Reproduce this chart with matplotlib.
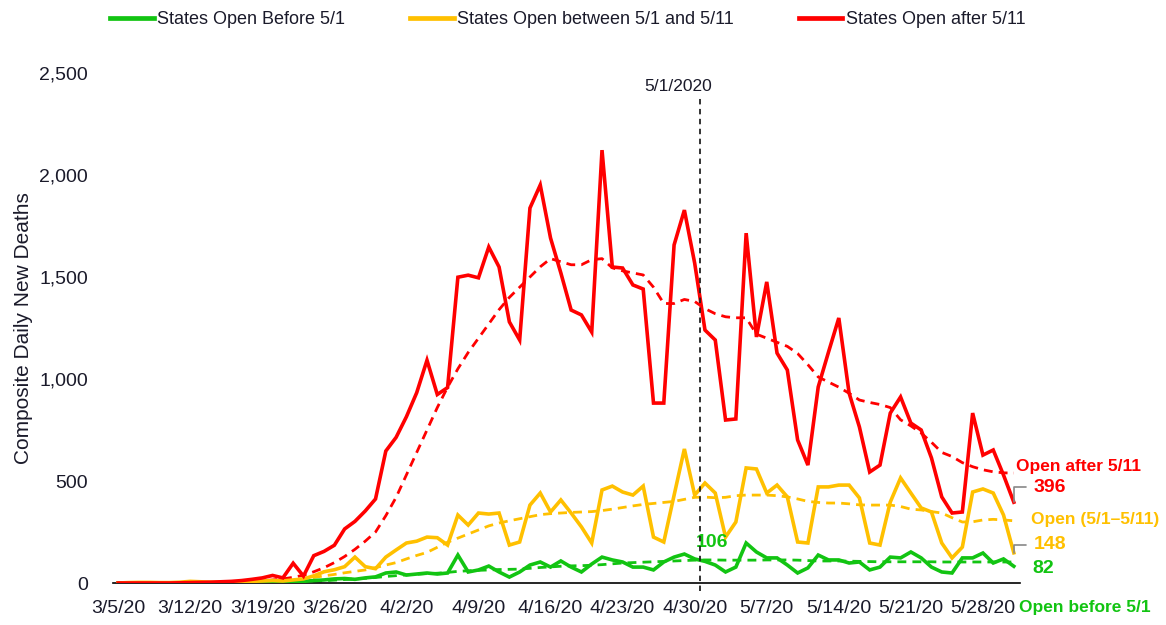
import matplotlib
matplotlib.use("Agg")
import matplotlib.pyplot as plt
import matplotlib.dates as mdates
from matplotlib.lines import Line2D
import pandas as pd
import numpy as np

# ---------------- data ----------------
start_date = "2020-03-05"
n_days = 88
dates = pd.date_range(start_date, periods=n_days, freq="D")

open_after_511 = [
    0, 0, 0, 0, 0, 0, 1, 2, 3, 4,
    6, 8, 12, 18, 25, 37, 25, 97, 34, 134,
    155, 185, 265, 302, 353, 412, 647, 714, 815, 933,
    1092, 924, 958, 1499, 1509, 1496, 1647, 1549, 1280, 1191,
    1838, 1951, 1691, 1520, 1338, 1314, 1230, 2122, 1549, 1544,
    1461, 1441, 882, 882, 1657, 1828, 1568, 1240, 1191, 799,
    804, 1715, 1206, 1476, 1127, 1044, 701, 578, 961, 1132,
    1299, 931, 765, 544, 578, 833, 912, 784, 750, 613,
    422, 343, 348, 833, 627, 652, 529, 396]
open_after_511_avg = [
    0, 0, 0, 0, 0, 0, 0, 1, 1, 2,
    3, 4, 6, 8, 11, 15, 20, 28, 38, 55,
    75, 100, 130, 165, 205, 250, 330, 420, 530, 640,
    750, 860, 960, 1050, 1130, 1200, 1270, 1340, 1400, 1450,
    1500, 1550, 1590, 1575, 1560, 1560, 1585, 1590, 1545, 1530,
    1520, 1510, 1450, 1370, 1370, 1390, 1380, 1345, 1320, 1305,
    1300, 1300, 1220, 1200, 1180, 1160, 1125, 1070, 1010, 985,
    960, 930, 897, 885, 875, 860, 800, 770, 735, 690,
    640, 620, 590, 570, 555, 545, 540, 539]

open_between = [
    0, 2, 3, 3, 2, 2, 4, 8, 6, 4,
    3, 4, 5, 8, 10, 12, 10, 15, 20, 35,
    55, 65, 80, 127, 80, 70, 127, 162, 196, 205,
    225, 222, 186, 333, 284, 343, 338, 343, 186, 201,
    382, 441, 348, 407, 343, 275, 196, 456, 475, 446,
    431, 475, 225, 201, 430, 657, 431, 490, 441, 225,
    299, 564, 559, 441, 480, 422, 201, 196, 471, 471,
    480, 480, 417, 196, 186, 397, 515, 441, 368, 348,
    196, 123, 176, 446, 461, 441, 333, 148]
open_between_avg = [
    0, 0, 1, 1, 1, 2, 2, 3, 3, 3,
    4, 4, 5, 6, 8, 10, 12, 15, 20, 27,
    35, 42, 50, 57, 64, 75, 88, 100, 118, 135,
    150, 175, 200, 220, 240, 260, 280, 294, 305, 315,
    325, 335, 340, 343, 346, 348, 350, 355, 362, 370,
    378, 385, 390, 395, 400, 410, 420, 421, 418, 420,
    428, 431, 431, 431, 428, 422, 412, 400, 395, 392,
    392, 388, 383, 382, 382, 382, 375, 362, 358, 350,
    343, 320, 299, 300, 309, 312, 309, 305]

open_before = [
    0, 0, 0, 0, 0, 0, 0, 1, 1, 1,
    1, 1, 2, 2, 2, 3, 4, 6, 8, 12,
    15, 20, 22, 18, 25, 30, 49, 54, 39, 44,
    49, 44, 49, 137, 54, 64, 83, 54, 29, 54,
    88, 103, 78, 108, 78, 54, 93, 127, 113, 103,
    78, 78, 64, 103, 127, 142, 118, 106, 88, 54,
    78, 196, 152, 123, 123, 88, 49, 74, 137, 113,
    113, 98, 103, 64, 78, 127, 123, 152, 123, 78,
    54, 49, 123, 123, 147, 98, 118, 82]
open_before_avg = [
    0, 0, 0, 0, 0, 0, 0, 0, 0, 1,
    1, 1, 1, 2, 2, 3, 4, 5, 7, 9,
    11, 14, 17, 20, 23, 27, 32, 36, 40, 43,
    46, 48, 52, 57, 60, 62, 64, 66, 67, 68,
    72, 76, 79, 82, 84, 85, 87, 90, 94, 98,
    100, 102, 104, 106, 108, 110, 112, 113, 113, 112,
    112, 112, 112, 113, 113, 113, 112, 110, 108, 108,
    108, 107, 106, 105, 104, 104, 104, 104, 104, 104,
    103, 103, 103, 103, 103, 103, 103, 103]

legend_labels = ["States Open Before 5/1",
                 "States Open between 5/1 and 5/11",
                 "States Open after 5/11"]
end_names = ["Open before 5/1", "Open (5/1\u20135/11)", "Open after 5/11"]
reopen_date = "2020-05-01"
reopen_label = "5/1/2020"
y_ticks = [0, 500, 1000, 1500, 2000, 2500]
y_label = "Composite Daily New Deaths"
tick_step_days = 7

GREEN = "#12C412"
ORANGE = "#FFC000"
RED = "#FF0000"
TXT = "#1a1a2a"

# ---------------- figure ----------------
plt.rcParams["font.family"] = ["Liberation Sans", "DejaVu Sans"]
fig = plt.figure(figsize=(11.66, 6.25), dpi=100)
ax = fig.add_axes([113 / 1166, 42 / 625, 907 / 1166, 510 / 625])

x = mdates.date2num(dates)
lw_solid = 2.6
lw_dash = 2.0
series = [
    (open_before, open_before_avg, GREEN),
    (open_between, open_between_avg, ORANGE),
    (open_after_511, open_after_511_avg, RED),
]
for vals, avg, col in series:
    ax.plot(x, avg, color=col, lw=lw_dash, dashes=(3.2, 2.2), zorder=2)
for vals, avg, col in series:
    ax.plot(x, vals, color=col, lw=lw_solid, solid_joinstyle="miter", zorder=3)

ax.set_ylim(0, 2500)
ax.set_xlim(x[0] - 0.5, x[-1] + 0.6)
ax.set_yticks(y_ticks)
ax.yaxis.set_major_formatter(matplotlib.ticker.FuncFormatter(lambda v, p: f"{int(v):,}"))
xt = x[::tick_step_days]
ax.set_xticks(xt)
ax.set_xticklabels([f"{d.month}/{d.day}/20" for d in dates[::tick_step_days]])
ax.tick_params(axis="both", length=0, labelsize=14, colors=TXT)
ax.tick_params(axis="x", pad=12)
ax.tick_params(axis="y", pad=18)
for s in ["top", "right", "left"]:
    ax.spines[s].set_visible(False)
ax.spines["bottom"].set_color("black")
ax.spines["bottom"].set_linewidth(1.2)
ax.set_ylabel(y_label, fontsize=15, color=TXT)
ax.yaxis.set_label_coords(-0.088, 0.5)

# reopen marker
xv = mdates.date2num(pd.Timestamp(reopen_date)) - 0.5
ax.vlines(xv, -40, 2385, colors="#222222", linestyles=(0, (3, 2.5)), lw=1.3,
          clip_on=False, zorder=4)
ax.annotate(reopen_label, xy=(xv, 2385), xytext=(-22, 10), textcoords="offset pixels",
            ha="center", va="center", fontsize=12.5, color=TXT)

# end-point labels
last = x[-1]
label_specs = [
    # (value, color, number offset, name offset, leader?)
    (open_after_511[-1], RED, (20, 15), (2, 36), True),
    (open_between[-1], ORANGE, (20, 8), (17, 33), True),
    (open_before[-1], GREEN, (19, -2), (5, -41), False),
]
names_order = [end_names[2], end_names[1], end_names[0]]
for (val, col, noff, toff, lead), nm in zip(label_specs, names_order):
    ax.annotate(f"{val}", xy=(last, val), xytext=noff, textcoords="offset pixels",
                ha="left", va="center", fontsize=14, fontweight="bold", color=col,
                annotation_clip=False)
    ax.annotate(nm, xy=(last, val), xytext=toff, textcoords="offset pixels",
                ha="left", va="center", fontsize=12.5, fontweight="bold", color=col,
                annotation_clip=False)
    if lead:
        ax.annotate("", xy=(last, val), xytext=(noff[0] - 8, noff[1]),
                    textcoords="offset pixels",
                    arrowprops=dict(arrowstyle="-", color="#888888", lw=1.2,
                                    connectionstyle="angle,angleA=0,angleB=90,rad=0",
                                    shrinkA=0, shrinkB=0),
                    annotation_clip=False)

# green data label near reopen date
i_re = list(dates).index(pd.Timestamp(reopen_date))
ax.annotate(f"{open_before[i_re]}", xy=(x[i_re], open_before[i_re]), xytext=(7, 19),
            textcoords="offset pixels", ha="center", va="center", fontsize=14,
            fontweight="bold", color=GREEN)

# legend
handles = [Line2D([], [], color=c, lw=3.4) for c in (GREEN, ORANGE, RED)]
fig.legend(handles, legend_labels, loc="center", bbox_to_anchor=(568 / 1166, 1 - 20 / 625),
           ncol=3, frameon=False, fontsize=13, handlelength=2.4, handletextpad=0.2,
           columnspacing=3.6, labelcolor=TXT)

fig.savefig("out.png", dpi=100)
